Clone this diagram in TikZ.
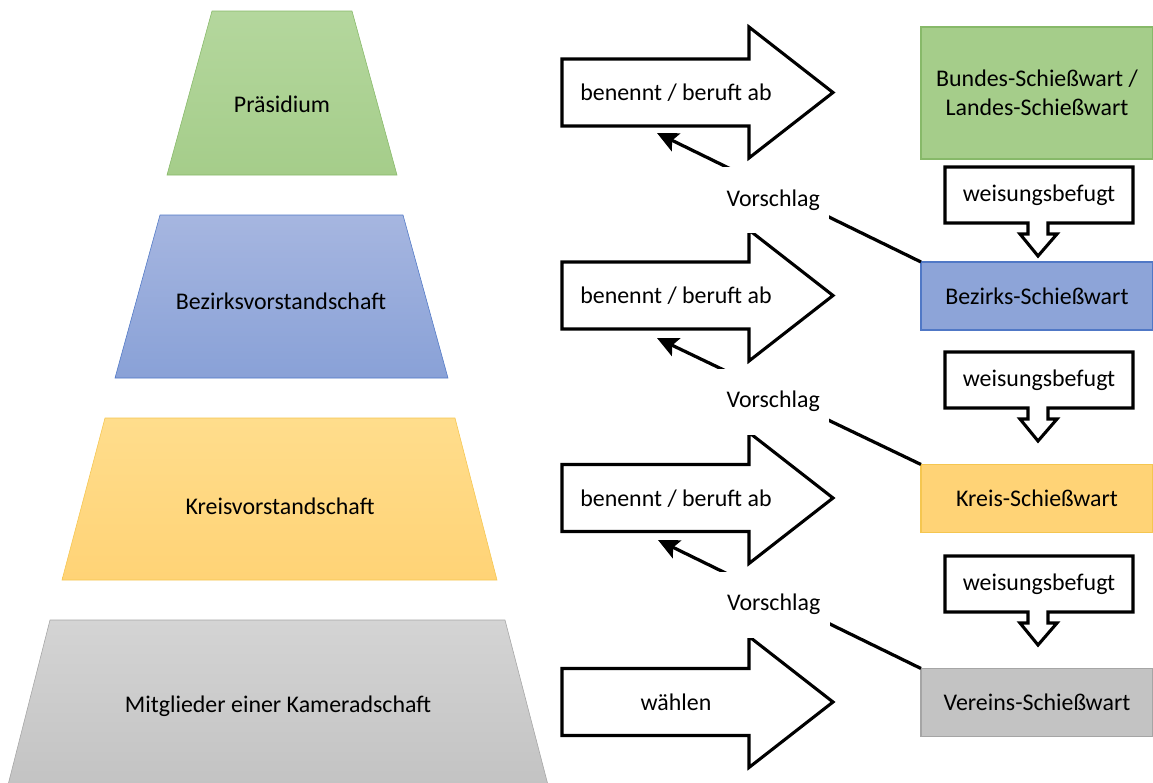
\documentclass[tikz,border=0pt]{standalone}
\usepackage{fontspec}
\setmainfont{Carlito}
\usetikzlibrary{arrows.meta}
\definecolor{gruen}{RGB}{165,205,138}
\definecolor{gruenhell}{RGB}{180,215,157}
\definecolor{gruenrand}{RGB}{135,185,105}
\definecolor{blau}{RGB}{137,161,215}
\definecolor{blauhell}{RGB}{166,182,224}
\definecolor{blaurand}{RGB}{80,120,198}
\definecolor{gelb}{RGB}{255,211,118}
\definecolor{gelbhell}{RGB}{255,221,140}
\definecolor{gelbrand}{RGB}{245,198,80}
\definecolor{grau}{RGB}{195,195,195}
\definecolor{grauhell}{RGB}{212,212,212}
\definecolor{graurand}{RGB}{165,165,165}
\tikzstyle{arrow} = [line width=2.3pt,-{Stealth[length=15pt,width=14pt,inset=3pt]}]
\tikzstyle{bigarrow} = [draw=black,line width=2.2pt,fill=white,line join=miter]
\tikzstyle{callout} = [draw=black,line width=2.2pt,fill=white,line join=miter]
\tikzstyle{wart} = [draw,line width=1pt,minimum width=5.8cm,minimum height=1.7cm,inner sep=0pt,outer sep=0pt,align=center]
\tikzstyle{vorschlag} = [fill=white,minimum width=2.8cm,minimum height=1.65cm,inner sep=0pt]

\begin{document}
\begin{tikzpicture}[x=0.025cm,y=-0.025cm,font=\fontsize{17pt}{21pt}\selectfont]
        \useasboundingbox (0,0) rectangle (1153,783);
        %pyramide
        \draw[draw=gruenrand,top color=gruenhell,bottom color=gruen] (212,11) -- (352,11) -- (397,175) -- (167,175) -- cycle
        (282,104) node (pr) {Präsidium};
        \draw[draw=blaurand,top color=blauhell,bottom color=blau] (160,215) -- (403,215) -- (448,378) -- (115,378) -- cycle
        (281,301) node (bv) {Bezirksvorstandschaft};
        \draw[draw=gelbrand,top color=gelbhell,bottom color=gelb] (105,418) -- (455,418) -- (497,580) -- (62,580) -- cycle
        (280,506) node (kv) {Kreisvorstandschaft};
        \draw[draw=graurand,top color=grauhell,bottom color=grau] (50,620) -- (505,620) -- (548,785) -- (8,785) -- cycle
        (278,706) node (mk) {Mitglieder einer Kameradschaft};
        %pfeile
        \draw[bigarrow] (562,59) -- (749,59) -- (749,27) -- (833,92.5) -- (749,158) -- (749,126) -- (562,126) -- cycle;
        \node (b1) at (676,93) {benennt / beruft ab};
        \draw[bigarrow] (562,262) -- (749,262) -- (749,230) -- (833,295.5) -- (749,361) -- (749,329) -- (562,329) -- cycle;
        \node (b2) at (676,296) {benennt / beruft ab};
        \draw[bigarrow] (562,464.5) -- (749,464.5) -- (749,432.5) -- (833,498) -- (749,563.5) -- (749,531.5) -- (562,531.5) -- cycle;
        \node (b3) at (676,499) {benennt / beruft ab};
        \draw[bigarrow] (562,668.5) -- (749,668.5) -- (749,636.5) -- (833,702) -- (749,767.5) -- (749,735.5) -- (562,735.5) -- cycle;
        \node (b4) at (676,702) {wählen};
        %schiesswarte
        \node[wart,fill=gruen,draw=gruenrand,minimum height=3.3cm] (bw) at (1037,93) {Bundes-Schießwart /\\Landes-Schießwart};
        \node[wart,fill=blau!85!blauhell,draw=blaurand] (bz) at (1037,296) {Bezirks-Schießwart};
        \node[wart,fill=gelb,draw=gelbrand] (kr) at (1037,498.5) {Kreis-Schießwart};
        \node[wart,fill=grau,draw=graurand] (vr) at (1037,702.5) {Vereins-Schießwart};
        %weisungsbefugt
        \draw[callout] (945,167) -- ++(188,0) -- ++(0,56) -- ++(-85,0) -- ++(0,11) -- ++(9,0) -- ++(-19,22)
        -- ++(-18,-22) -- ++(8,0) -- ++(0,-11) -- ++(-83,0) -- cycle;
        \node (w1) at (1039,195) {weisungsbefugt};
        \draw[callout] (945,352) -- ++(188,0) -- ++(0,56) -- ++(-85,0) -- ++(0,11) -- ++(9,0) -- ++(-19,22)
        -- ++(-18,-22) -- ++(8,0) -- ++(0,-11) -- ++(-83,0) -- cycle;
        \node (w2) at (1039,380) {weisungsbefugt};
        \draw[callout] (945,556) -- ++(188,0) -- ++(0,56) -- ++(-85,0) -- ++(0,11) -- ++(9,0) -- ++(-19,22)
        -- ++(-18,-22) -- ++(8,0) -- ++(0,-11) -- ++(-83,0) -- cycle;
        \node (w3) at (1039,584) {weisungsbefugt};
        %vorschlag
        \coordinate (t1) at (657,133);
        \coordinate (t2) at (657,338);
        \coordinate (t3) at (658,540);
        \draw[arrow] (bz.north west) -- node[vorschlag,pos=.56,yshift=-0.25cm] (v1) {Vorschlag} (t1);
        \draw[arrow] (kr.north west) -- node[vorschlag,pos=.56,yshift=-0.2cm] (v2) {Vorschlag} (t2);
        \draw[arrow] (vr.north west) -- node[vorschlag,pos=.56,yshift=-0.2cm] (v3) {Vorschlag} (t3);
\end{tikzpicture}
\end{document}
